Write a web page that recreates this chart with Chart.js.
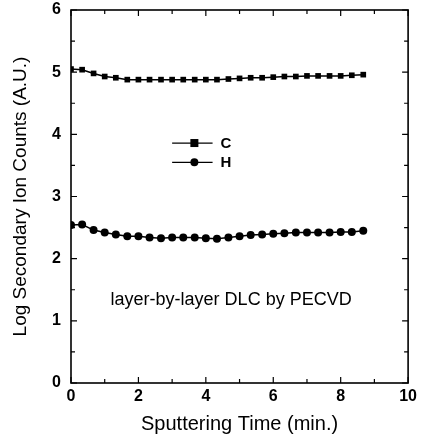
<!DOCTYPE html>
<html>
<head>
<meta charset="utf-8">
<script src="https://cdn.jsdelivr.net/npm/chart.js@4"></script>
<style>
  html, body { margin: 0; padding: 0; background: #fff; }
  #wrap { width: 421px; height: 436px; }
</style>
</head>
<body>
<div id="wrap"><canvas id="sims"></canvas></div>
<script>
// sputtering time (min.) for each measurement
const times = [0, 0.33, 0.67, 1, 1.33, 1.67, 2, 2.33, 2.67, 3, 3.33, 3.67, 4, 4.33,
  4.67, 5, 5.33, 5.67, 6, 6.33, 6.67, 7, 7.33, 7.67, 8, 8.33, 8.67];
const carbon = [5.05, 5.04, 4.98, 4.93, 4.91, 4.88, 4.88, 4.88, 4.88, 4.88, 4.88, 4.88, 4.88, 4.88,
  4.89, 4.90, 4.91, 4.91, 4.92, 4.93, 4.93, 4.94, 4.94, 4.94, 4.94, 4.95, 4.96];
const hydrogen = [2.54, 2.55, 2.46, 2.42, 2.39, 2.36, 2.36, 2.34, 2.33, 2.34, 2.34, 2.34, 2.33, 2.32,
  2.34, 2.36, 2.38, 2.39, 2.40, 2.41, 2.42, 2.42, 2.42, 2.42, 2.43, 2.43, 2.45];
const xTicks = [0, 2, 4, 6, 8, 10];
const yTicks = [0, 1, 2, 3, 4, 5, 6];

const font = "Arial, 'Liberation Sans', sans-serif";

function toPoints(ys) {
  return ys.map((y, i) => ({ x: times[i], y: y }));
}

// frame, inward ticks, legend and note
const decorations = {
  id: "decorations",
  afterDraw(chart) {
    const ctx = chart.ctx;
    const xs = chart.scales.x;
    const ys = chart.scales.y;
    const a = chart.chartArea;
    ctx.save();
    ctx.strokeStyle = "#000";
    ctx.lineWidth = 1.6;
    ctx.strokeRect(a.left, a.top, a.right - a.left, a.bottom - a.top);

    ctx.lineWidth = 1.2;
    for (let v = 0; v <= 10; v += 1) {
      const len = v % 2 === 0 ? 6 : 4;
      const px = xs.getPixelForValue(v);
      ctx.beginPath();
      ctx.moveTo(px, a.bottom); ctx.lineTo(px, a.bottom - len);
      ctx.moveTo(px, a.top); ctx.lineTo(px, a.top + len);
      ctx.stroke();
    }
    for (let v = 0; v <= 6; v += 0.5) {
      const len = v % 1 === 0 ? 6 : 4;
      const py = ys.getPixelForValue(v);
      ctx.beginPath();
      ctx.moveTo(a.left, py); ctx.lineTo(a.left + len, py);
      ctx.moveTo(a.right, py); ctx.lineTo(a.right - len, py);
      ctx.stroke();
    }

    // legend
    const entries = [
      { label: "C", y: 3.86, style: "rect" },
      { label: "H", y: 3.55, style: "circle" }
    ];
    const x0 = xs.getPixelForValue(3.0);
    const x1 = xs.getPixelForValue(4.2);
    const xm = xs.getPixelForValue(3.66);
    entries.forEach(e => {
      const py = ys.getPixelForValue(e.y);
      ctx.lineWidth = 1.3;
      ctx.beginPath();
      ctx.moveTo(x0, py); ctx.lineTo(x1, py);
      ctx.stroke();
      ctx.fillStyle = "#000";
      if (e.style === "rect") {
        ctx.fillRect(xm - 4, py - 4, 8, 8);
      } else {
        ctx.beginPath();
        ctx.arc(xm, py, 4, 0, Math.PI * 2);
        ctx.fill();
      }
      ctx.font = "bold 15px " + font;
      ctx.textAlign = "left";
      ctx.textBaseline = "middle";
      ctx.fillText(e.label, x1 + 8, py + 1);
    });

    ctx.font = "18px " + font;
    ctx.textAlign = "center";
    ctx.textBaseline = "middle";
    ctx.fillText("layer-by-layer DLC by PECVD", xs.getPixelForValue(4.75), ys.getPixelForValue(1.33));
    ctx.restore();
  }
};

new Chart(document.getElementById("sims"), {
  type: "scatter",
  data: {
    datasets: [
      {
        label: "C",
        data: toPoints(carbon),
        showLine: true,
        borderColor: "#000",
        backgroundColor: "#000",
        borderWidth: 1.5,
        pointStyle: "rect",
        pointRadius: 4,
        pointBorderWidth: 0
      },
      {
        label: "H",
        data: toPoints(hydrogen),
        showLine: true,
        borderColor: "#000",
        backgroundColor: "#000",
        borderWidth: 1.5,
        pointStyle: "circle",
        pointRadius: 4,
        pointBorderWidth: 0
      }
    ]
  },
  options: {
    responsive: true,
    maintainAspectRatio: false,
    animation: false,
    layout: { padding: { top: 10, right: 11, left: 0, bottom: 0 } },
    plugins: { legend: { display: false }, tooltip: { enabled: false } },
    scales: {
      x: {
        type: "linear",
        min: 0,
        max: 10,
        afterBuildTicks: s => { s.ticks = xTicks.map(v => ({ value: v })); },
        afterFit: s => { s.height = 53; },
        grid: { display: false, drawTicks: false },
        border: { display: false },
        ticks: { color: "#000", padding: 4, font: { family: font, size: 16, weight: "bold" } },
        title: {
          display: true,
          text: "Sputtering Time (min.)",
          color: "#000",
          padding: { top: 10, bottom: 0 },
          font: { family: font, size: 20 }
        }
      },
      y: {
        type: "linear",
        min: 0,
        max: 6,
        afterBuildTicks: s => { s.ticks = yTicks.map(v => ({ value: v })); },
        afterFit: s => { s.width = 71; s.paddingTop = 0; s.paddingBottom = 0; },
        grid: { display: false, drawTicks: false },
        border: { display: false },
        ticks: { color: "#000", padding: 10, font: { family: font, size: 16, weight: "bold" } },
        title: {
          display: true,
          text: "Log Secondary Ion Counts (A.U.)",
          color: "#000",
          padding: { top: 9, bottom: 0 },
          font: { family: font, size: 19 }
        }
      }
    }
  },
  plugins: [decorations]
});
</script>
</body>
</html>
